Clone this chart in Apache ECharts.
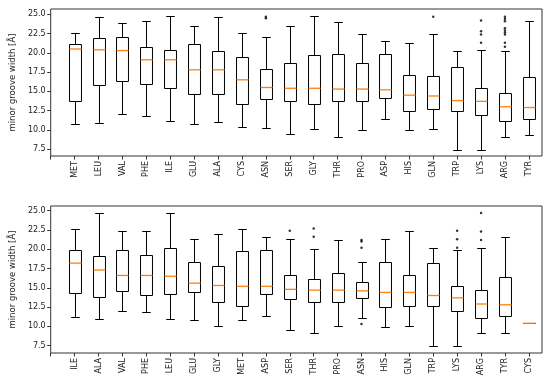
<!DOCTYPE html>
<html>
<head>
<meta charset="utf-8">
<script src="https://cdn.jsdelivr.net/npm/echarts@6/dist/echarts.min.js"></script>
<style>html,body{margin:0;padding:0;background:#fff}#c{width:550px;height:390px}</style>
</head>
<body>
<div id="c"></div>
<script>
// ---- Top panel ----
var catsTop = ['MET','LEU','VAL','PHE','ILE','GLU','ALA','CYS','ASN','SER','GLY','THR','PRO','ASP','HIS','GLN','TRP','LYS','ARG','TYR'];
var lowTop  = [10.8, 10.9, 12.0, 11.8, 11.2, 10.8, 11.0, 10.4, 10.3, 9.5, 10.1, 9.1, 10.0, 11.4, 10.0, 10.1, 7.4, 7.4, 9.1, 9.3];
var q1Top   = [13.7, 15.8, 16.3, 15.9, 15.4, 14.6, 14.6, 13.4, 14.0, 13.8, 13.4, 13.7, 13.7, 14.2, 12.5, 12.7, 12.4, 11.9, 11.1, 11.4];
var medTop  = [20.5, 20.4, 20.3, 19.1, 19.1, 17.8, 17.8, 16.5, 15.5, 15.4, 15.4, 15.3, 15.3, 15.2, 14.5, 14.4, 13.8, 13.7, 13.0, 12.9];
var q3Top   = [21.2, 21.9, 22.1, 20.8, 20.4, 21.2, 20.2, 19.5, 17.9, 18.7, 19.7, 19.8, 18.7, 19.9, 17.1, 17.0, 18.1, 15.5, 14.8, 16.9];
var highTop = [22.6, 24.7, 23.9, 24.2, 24.8, 23.5, 24.7, 22.6, 22.1, 23.5, 24.8, 24.0, 22.5, 21.6, 21.3, 22.4, 20.2, 20.4, 20.2, 24.2];
var outTopCat = ['ASN','ASN','GLN','LYS','LYS','LYS','LYS','ARG','ARG','ARG','ARG','ARG','ARG','ARG','ARG','ARG'];
var outTopVal = [24.7, 24.5, 24.7, 24.2, 22.8, 22.4, 21.3, 24.7, 24.4, 24.1, 23.2, 22.9, 22.65, 22.4, 21.3, 20.8];

// ---- Bottom panel ----
var catsBot = ['ILE','ALA','VAL','PHE','LEU','GLU','GLY','MET','ASP','SER','THR','PRO','ASN','HIS','GLN','TRP','LYS','ARG','TYR','CYS'];
var lowBot  = [11.2, 11.0, 12.0, 11.8, 10.9, 10.8, 10.1, 10.8, 11.4, 9.5, 9.1, 10.0, 11.1, 9.9, 10.1, 7.5, 7.5, 9.1, 9.2, 10.4];
var q1Bot   = [14.3, 13.8, 14.6, 14.1, 14.2, 14.4, 13.1, 12.7, 14.2, 13.5, 13.2, 13.2, 13.7, 12.5, 12.7, 12.6, 12.0, 11.1, 11.4, 10.4];
var medBot  = [18.2, 17.3, 16.6, 16.6, 16.5, 15.6, 15.3, 15.2, 15.2, 14.8, 14.7, 14.7, 14.6, 14.4, 14.4, 14.0, 13.7, 12.9, 12.8, 10.4];
var q3Bot   = [19.9, 19.1, 19.9, 19.3, 20.2, 18.3, 17.8, 19.8, 19.9, 16.7, 16.2, 16.9, 15.7, 18.4, 16.7, 18.2, 15.2, 14.7, 16.4, 10.4];
var highBot = [22.6, 24.7, 22.4, 22.4, 24.7, 21.3, 22.0, 22.6, 21.6, 21.3, 20.0, 21.2, 18.4, 21.3, 22.4, 20.2, 19.9, 20.2, 21.6, 10.4];
var outBotCat = ['SER','THR','THR','ASN','ASN','ASN','ASN','LYS','LYS','LYS','ARG','ARG','ARG'];
var outBotVal = [22.4, 22.7, 21.6, 21.2, 21.0, 20.2, 10.3, 22.4, 21.3, 20.2, 24.7, 22.3, 21.2];

var yTicks = [7.5, 10.0, 12.5, 15.0, 17.5, 20.0, 22.5, 25.0];

function boxData(cats, lo, q1, md, q3, hi) {
  return cats.map(function (c, i) { return [i + 1, lo[i], q1[i], md[i], q3[i], hi[i]]; });
}
function outData(cats, oc, ov) {
  return oc.map(function (c, i) { return [cats.indexOf(c) + 1, ov[i]]; });
}

function renderBox(params, api) {
  var x = api.value(0);
  var lo = api.value(1), q1 = api.value(2), md = api.value(3), q3 = api.value(4), hi = api.value(5);
  var unit = api.size([1, 0])[0];
  var hw = unit * 0.25, cw = unit * 0.18;
  var cx = Math.round(api.coord([x, 0])[0]) + 0.5;
  function Y(v) { return Math.round(api.coord([x, v])[1]) + 0.5; }
  var yLo = Y(lo), yQ1 = Y(q1), yMd = api.coord([x, md])[1], yQ3 = Y(q3), yHi = Y(hi);
  var black = { stroke: '#000', lineWidth: 1, fill: null };
  var kids = [
    { type: 'line', shape: { x1: cx, y1: yQ1, x2: cx, y2: yLo }, style: black },
    { type: 'line', shape: { x1: cx, y1: yQ3, x2: cx, y2: yHi }, style: black },
    { type: 'line', shape: { x1: cx - cw, y1: yLo, x2: cx + cw, y2: yLo }, style: black },
    { type: 'line', shape: { x1: cx - cw, y1: yHi, x2: cx + cw, y2: yHi }, style: black },
    { type: 'rect', shape: { x: cx - hw, y: yQ3, width: 2 * hw, height: yQ1 - yQ3 }, style: { stroke: '#000', lineWidth: 1, fill: 'none' } },
    { type: 'line', shape: { x1: cx - hw, y1: yMd, x2: cx + hw, y2: yMd }, style: { stroke: '#ff7f0e', lineWidth: 1.3 } }
  ];
  return { type: 'group', children: kids };
}

var xTickVals = []; for (var i = 0; i <= 20; i++) xTickVals.push(i);
var xLabVals = []; for (var j = 1; j <= 20; j++) xLabVals.push(j);

function makeX(idx, cats) {
  return {
    type: 'value', gridIndex: idx, min: 0, max: 20.55,
    axisLine: { show: false, onZero: false },
    axisTick: { show: true, length: 3.5, customValues: xTickVals, lineStyle: { color: '#333' } },
    axisLabel: {
      customValues: xLabVals, rotate: 90, fontSize: 8, color: '#222', margin: 5,
      fontFamily: 'DejaVu Sans',
      formatter: function (v) { return cats[Math.round(v) - 1] || ''; }
    },
    splitLine: { show: false }
  };
}
function makeY(idx, mn, mx) {
  return {
    type: 'value', gridIndex: idx, min: mn, max: mx,
    name: 'minor groove width [Å]', nameLocation: 'middle', nameRotate: 90, nameGap: 33,
    nameTextStyle: { fontSize: 8.5, color: '#222', fontFamily: 'DejaVu Sans' },
    axisLine: { show: false },
    axisTick: { show: true, length: 3.5, customValues: yTicks, lineStyle: { color: '#333' } },
    axisLabel: {
      customValues: yTicks, fontSize: 8, color: '#222', margin: 5, fontFamily: 'DejaVu Sans',
      formatter: function (v) { return v.toFixed(1); }
    },
    splitLine: { show: false }
  };
}

var chart = echarts.init(document.getElementById('c'), null, { renderer: 'canvas' });
chart.setOption({
  animation: false,
  backgroundColor: '#fff',
  grid: [
    { left: 49, right: 8, top: 9, height: 147, show: true, borderColor: '#333', borderWidth: 1, backgroundColor: 'transparent' },
    { left: 49, right: 8, top: 206, height: 147, show: true, borderColor: '#333', borderWidth: 1, backgroundColor: 'transparent' }
  ],
  xAxis: [makeX(0, catsTop), makeX(1, catsBot)],
  yAxis: [makeY(0, 6.6, 25.7), makeY(1, 6.55, 25.6)],
  series: [
    { type: 'custom', xAxisIndex: 0, yAxisIndex: 0, renderItem: renderBox, encode: { x: 0, y: [1, 2, 3, 4, 5] },
      data: boxData(catsTop, lowTop, q1Top, medTop, q3Top, highTop), silent: true },
    { type: 'scatter', xAxisIndex: 0, yAxisIndex: 0, symbol: 'circle', symbolSize: 2.5,
      itemStyle: { color: '#000' }, data: outData(catsTop, outTopCat, outTopVal), silent: true },
    { type: 'custom', xAxisIndex: 1, yAxisIndex: 1, renderItem: renderBox, encode: { x: 0, y: [1, 2, 3, 4, 5] },
      data: boxData(catsBot, lowBot, q1Bot, medBot, q3Bot, highBot), silent: true },
    { type: 'scatter', xAxisIndex: 1, yAxisIndex: 1, symbol: 'circle', symbolSize: 2.5,
      itemStyle: { color: '#000' }, data: outData(catsBot, outBotCat, outBotVal), silent: true }
  ]
});
</script>
</body>
</html>
